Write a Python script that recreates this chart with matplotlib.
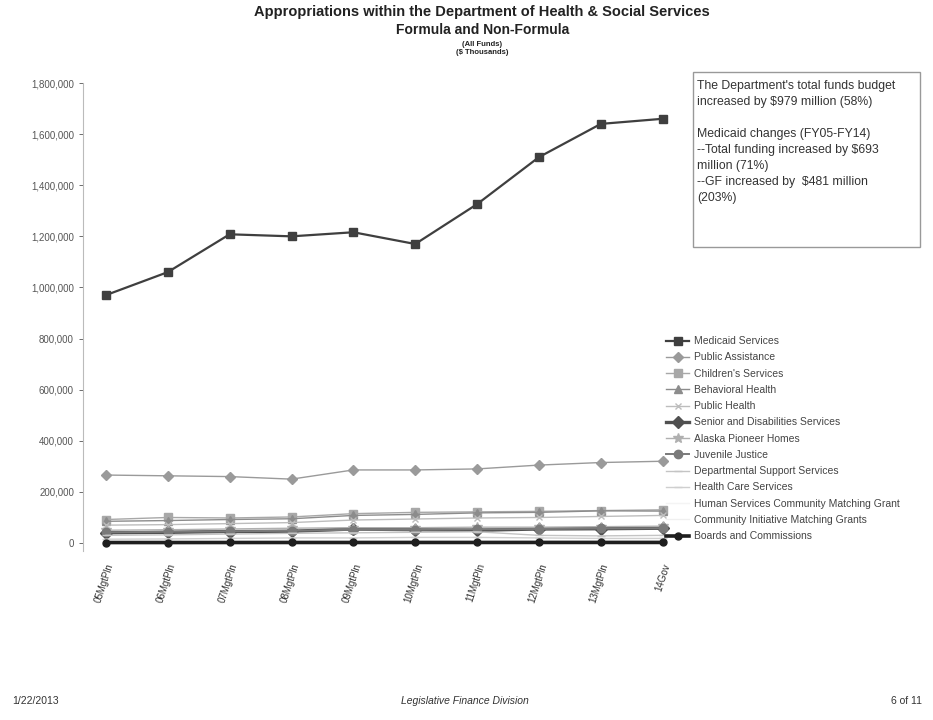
"""
Appropriations within the Department of Health & Social Services,
formula and non-formula, all funds ($ thousands), FY05 - FY14.
"""
import matplotlib
matplotlib.use("Agg")
import matplotlib.pyplot as plt
from matplotlib.ticker import FuncFormatter

plt.rcParams["font.family"] = ["Liberation Sans", "DejaVu Sans"]

YEARS = ["05MgtPln", "06MgtPln", "07MgtPln", "08MgtPln", "09MgtPln",
         "10MgtPln", "11MgtPln", "12MgtPln", "13MgtPln", "14Gov"]

# $ thousands
MEDICAID = [970000, 1060000, 1208000, 1200000, 1216000, 1170000, 1326000, 1510000, 1640000, 1660000]
PUBLIC_ASSIST = [266000, 263000, 260000, 250000, 286000, 286000, 290000, 305000, 315000, 320000]
CHILDREN = [92000, 100000, 98000, 102000, 115000, 120000, 122000, 124000, 127000, 130000]
BEHAVIORAL = [85000, 88000, 92000, 95000, 108000, 112000, 118000, 120000, 126000, 125000]
PUBLIC_HEALTH = [70000, 72000, 76000, 80000, 90000, 94000, 98000, 100000, 104000, 108000]
SENIOR = [40000, 42000, 45000, 46000, 55000, 52000, 50000, 55000, 56000, 58000]
PIONEER = [50000, 52000, 55000, 58000, 60000, 60000, 62000, 62000, 64000, 66000]
JUVENILE = [42000, 44000, 46000, 48000, 52000, 52000, 54000, 55000, 57000, 58000]
DEPT_SUPPORT = [30000, 32000, 35000, 38000, 40000, 42000, 44000, 30000, 28000, 30000]
HEALTH_CARE = [15000, 16000, 18000, 20000, 20000, 22000, 22000, 20000, 18000, 18000]
HUMAN_GRANT = [1400, 1400, 1400, 1400, 1400, 1400, 1400, 1400, 1400, 1400]
COMMUNITY_GRANT = [800, 800, 800, 800, 800, 800, 800, 800, 800, 800]
BOARDS = [2000, 2000, 2100, 2200, 2200, 2300, 2300, 2400, 2400, 2400]

SERIES = [
    ("Medicaid Services", MEDICAID, "#3f3f3f", "s", 1.6, 6),
    ("Public Assistance", PUBLIC_ASSIST, "#9a9a9a", "D", 1.0, 5),
    ("Children's Services", CHILDREN, "#a8a8a8", "s", 1.0, 6),
    ("Behavioral Health", BEHAVIORAL, "#8c8c8c", "^", 1.0, 6),
    ("Public Health", PUBLIC_HEALTH, "#bdbdbd", "x", 1.0, 5),
    ("Senior and Disabilities Services", SENIOR, "#505050", "D", 2.4, 6),
    ("Alaska Pioneer Homes", PIONEER, "#b0b0b0", "*", 1.0, 7),
    ("Juvenile Justice", JUVENILE, "#7a7a7a", "o", 1.4, 6),
    ("Departmental Support Services", DEPT_SUPPORT, "#c4c4c4", "_", 1.0, 6),
    ("Health Care Services", HEALTH_CARE, "#cfcfcf", "_", 1.0, 6),
    ("Human Services Community Matching Grant", HUMAN_GRANT, "#f4f4f4", None, 1.0, 0),
    ("Community Initiative Matching Grants", COMMUNITY_GRANT, "#f0f0f0", None, 1.0, 0),
    ("Boards and Commissions", BOARDS, "#1e1e1e", "o", 2.6, 5),
]

fig = plt.figure(figsize=(9.33, 7.2), dpi=100)
ax = fig.add_axes([83 / 933, 1 - 550.7 / 720, (672 - 83) / 933, (550.7 - 83) / 720])

x = list(range(len(YEARS)))
handles = []
for name, vals, color, marker, lw, ms in SERIES:
    (h,) = ax.plot(x, vals, color=color, marker=marker, linewidth=lw,
                   markersize=ms, markeredgecolor=color, label=name)
    handles.append(h)

ax.set_ylim(-30000, 1800000)
ax.set_yticks(range(0, 1800001, 200000))
ax.yaxis.set_major_formatter(FuncFormatter(lambda v, p: f"{int(v):,}"))
ax.set_xlim(-0.37, 9.15)
ax.set_xticks(x)
ax.set_xticklabels(YEARS, rotation=72, ha="right", rotation_mode="anchor",
                   fontsize=7, color="#333333")
ax.tick_params(axis="y", labelsize=7, colors="#555555", length=3, width=0.6)
ax.tick_params(axis="x", length=0, pad=8)
for side in ("top", "right", "bottom"):
    ax.spines[side].set_visible(False)
ax.spines["left"].set_color("#bbbbbb")
ax.spines["left"].set_linewidth(0.8)

fig.legend(handles=handles, loc="upper left", bbox_to_anchor=(662 / 933, 1 - 332 / 720),
           frameon=False, fontsize=7.5, handlelength=2.2, labelspacing=0.6,
           handletextpad=0.5, labelcolor="#444444", borderaxespad=0)

# Titles
fig.text(0.517, 1 - 12 / 720, "Appropriations within the Department of Health & Social Services",
         ha="center", va="center", fontsize=10.5, fontweight="bold", color="#222222")
fig.text(0.517, 1 - 30 / 720, "Formula and Non-Formula",
         ha="center", va="center", fontsize=10, fontweight="bold", color="#222222")
fig.text(0.517, 1 - 44 / 720, "(All Funds)",
         ha="center", va="center", fontsize=5.5, fontweight="bold", color="#222222")
fig.text(0.517, 1 - 53 / 720, "($ Thousands)",
         ha="center", va="center", fontsize=5.5, fontweight="bold", color="#222222")

# Annotation box
box = plt.Rectangle((693 / 933, 1 - 247 / 720), (920 - 693) / 933, (247 - 72) / 720,
                    transform=fig.transFigure, fill=False, edgecolor="#999999",
                    linewidth=1.0)
fig.add_artist(box)
note = ("The Department's total funds budget\n"
        "increased by $979 million (58%)\n"
        "\n"
        "Medicaid changes (FY05-FY14)\n"
        "--Total funding increased by $693\n"
        "million (71%)\n"
        "--GF increased by  $481 million\n"
        "(203%)")
fig.text(697 / 933, 1 - 80 / 720, note, ha="left", va="top", fontsize=8.8,
         color="#333333", linespacing=1.45)

# Footer
fig.text(12 / 933, 1 - 701 / 720, "1/22/2013", ha="left", va="center",
         fontsize=7.5, color="#333333")
fig.text(465 / 933, 1 - 701 / 720, "Legislative Finance Division", ha="center",
         va="center", fontsize=7.5, style="italic", color="#333333")
fig.text(922 / 933, 1 - 701 / 720, "6 of 11", ha="right", va="center",
         fontsize=7.5, color="#333333")

fig.savefig("out.png", dpi=100)
